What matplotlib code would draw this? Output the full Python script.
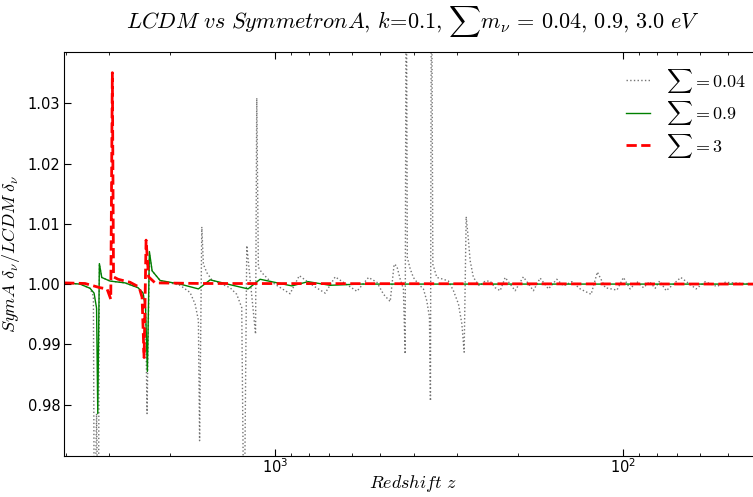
import numpy as np
import matplotlib
matplotlib.use("Agg")
import matplotlib.pyplot as plt
from matplotlib.ticker import FormatStrFormatter

matplotlib.rcParams.update({"font.size": 10.5, "mathtext.fontset": "cm"})

# redshift samples and ratio SymA/LCDM for each neutrino mass sum
z_004 = [4039, 3634, 3401, 3327, 3306, 3258, 3220, 3198, 3148, 2980, 2698,
         2476, 2395, 2356, 2333, 2297, 2256, 2140, 1875, 1755, 1698, 1661,
         1648, 1624, 1607, 1571, 1520, 1347, 1289, 1247, 1228, 1206, 1138,
         1129, 1117, 1092, 1034, 978, 906, 852, 820, 776, 718, 672, 582, 539,
         510, 488, 467, 455, 447, 437, 428, 423, 420, 417, 409, 400.6, 387.5,
         374.9, 366.5, 360.2, 357.8, 355.5, 352.2, 343.0, 328.4, 317.7, 307.3,
         297.3, 290.7, 286.3, 282.5, 278.2, 275.2, 269.3, 258.8, 249.2, 241.1,
         233.2, 225.6, 218.3, 204.3, 193.5, 181.1, 173.2, 163.9, 155.1, 148.4,
         140.4, 132.9, 123.6, 118.6, 112.6, 104.2, 99.8, 95.5, 91.3, 87.4,
         84.0, 80.9, 78.6, 75.2, 68.3, 61.7, 58.1, 53.8, 50.9, 45.6, 39.9]
r_004 = [1.0002, 1.0000, 0.9993, 0.9980, 0.955, 0.9785, 0.955, 1.0033, 1.0011,
         1.0005, 1.0002, 0.9994, 0.9985, 0.9960, 0.9785, 1.0050, 1.0022,
         1.0006, 0.9998, 0.9986, 0.9967, 0.9940, 0.9740, 1.0095, 1.0033,
         1.0019, 1.0007, 0.9994, 0.9983, 0.9961, 0.955, 1.0064, 0.9917,
         1.0309, 1.0028, 1.0019, 1.0005, 0.9996, 0.9984, 1.0014, 1.0007,
         0.9997, 0.9985, 1.0012, 0.9988, 1.0011, 1.0003, 0.9983, 0.9971,
         1.0033, 1.0030, 1.0008, 0.9992, 0.9884, 1.06, 1.0044, 1.0025, 1.0011,
         1.0000, 0.9992, 0.9972, 0.9945, 0.9806, 1.06, 1.0033, 1.0011, 1.0008,
         1.0005, 0.9989, 0.9967, 0.9934, 0.9887, 1.0112, 1.0072, 1.0039,
         1.0011, 0.9997, 1.0005, 1.0005, 0.9994, 0.9989, 1.0011, 0.9989,
         1.0012, 0.9989, 1.0010, 0.9992, 1.0008, 0.9997, 1.0004, 0.9992,
         0.9983, 1.0020, 0.9994, 0.9990, 1.0011, 0.9992, 1.0004, 0.9994,
         1.0004, 0.9993, 1.0005, 0.9989, 1.0011, 0.9992, 1.0004, 0.9996,
         1.0003, 1.0001, 1.0000]

z_09 = [4039, 3634, 3401, 3312, 3258, 3232, 3198, 3148, 2980, 2698, 2476, 2395,
        2356, 2328, 2297, 2256, 2140, 1875, 1661, 1537, 1347, 1196, 1104, 967,
        895, 804, 695, 570, 39.9]
r_09 = [1.0002, 1.0000, 0.9993, 0.9985, 0.9960, 0.9785, 1.0034, 1.0011,
        1.0005, 1.0002, 0.9994, 0.9985, 0.9960, 0.9855, 1.0054, 1.0022, 1.0006,
        1.0000, 0.9992, 1.0007, 0.9999, 0.9992, 1.0008, 1.0001, 0.9997, 1.0004,
        0.9998, 1.0000, 1.0000]

z_3 = [4039, 3516, 3184, 3040, 2966, 2935, 2912, 2826, 2610, 2459, 2411, 2379,
       2348, 2309, 2212, 1643, 39.9]
r_3 = [1.0002, 1.0001, 0.9994, 0.9992, 0.9975, 1.0351, 1.0012, 1.0008, 1.0003,
       0.9995, 0.9978, 0.9878, 1.0073, 1.0012, 1.0002, 1.0001, 1.0000]

fig = plt.figure(figsize=(7.53, 4.97), dpi=100)
# axes runs a little past the right edge, as in the original crop
ax = fig.add_axes([0.0854, 0.083, 0.9266, 0.812])

ax.plot(z_004, r_004, ":", color="0.45", lw=1, label=r"$\sum{=}0.04$")
ax.plot(z_09, r_09, "-", color="green", lw=1, label=r"$\sum{=}0.9$")
ax.plot(z_3, r_3, "--", color="red", lw=2, label=r"$\sum{=}3$")

ax.set_xscale("log")
ax.set_xlim(4033, 39.9)
ax.set_ylim(0.9715, 1.0385)
ax.set_yticks([0.98, 0.99, 1.00, 1.01, 1.02, 1.03])
ax.yaxis.set_major_formatter(FormatStrFormatter("%.2f"))
ax.tick_params(which="both", direction="in", top=True, right=True, pad=3)
ax.tick_params(axis="x", pad=1)
ax.tick_params(which="major", length=5)
ax.tick_params(which="minor", length=2.5)

ax.set_xlabel(r"$Redshift\ z$", fontsize=13, labelpad=-2)
ax.set_ylabel(r"$SymA\ \delta_\nu/LCDM\ \delta_\nu$", fontsize=13, labelpad=4)
ax.set_title(r"$LCDM\ vs\ SymmetronA,\,k\!=\!0.1,\,\sum m_\nu\,=\,0.04,\,0.9,\,3.0\ eV$",
             fontsize=16, pad=17)

leg = ax.legend(loc="upper right", frameon=False, fontsize=13, handlelength=1.3,
                handletextpad=0.9, labelspacing=0.25,
                bbox_to_anchor=(0.0, 0.0, (753 - 64.3) / (0.9266 * 753), 0.982),
                borderaxespad=0.0)

fig.savefig("out.png", dpi=100)
